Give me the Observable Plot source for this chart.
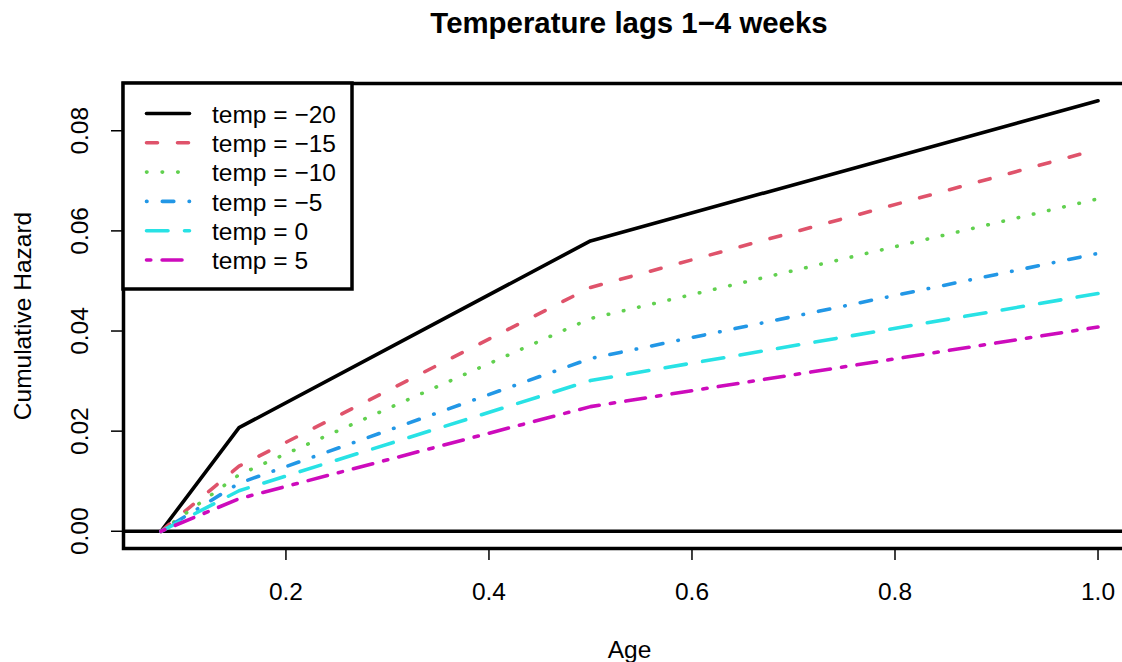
<!DOCTYPE html>
<html><head><meta charset="utf-8">
<script src="https://cdn.jsdelivr.net/npm/d3@7"></script>
<script src="https://cdn.jsdelivr.net/npm/@observablehq/plot@0.6"></script>
<style>
html,body{margin:0;padding:0;background:#fff;overflow:hidden;}
#title{height:55px;box-sizing:border-box;padding-top:8.4px;width:1258px;text-align:center;font-family:"Liberation Sans",Arial,sans-serif;font-weight:bold;font-size:29.4px;line-height:29.4px;white-space:nowrap;}
#chart svg{max-width:none;display:block;}
</style></head><body>
<div id="title">Temperature lags 1−4 weeks</div>
<div id="chart"></div>
<script>
// ---- data ----
const ages = [0.0769, 0.1538, 0.5, 1.0];
const temps = [-20, -15, -10, -5, 0, 5];
const hazTempM20 = [0, 0.0207, 0.0580, 0.0860];
const hazTempM15 = [0, 0.0130, 0.0487, 0.0763];
const hazTempM10 = [0, 0.0113, 0.0425, 0.0664];
const hazTempM5  = [0, 0.0096, 0.0345, 0.0555];
const hazTemp0   = [0, 0.0081, 0.0301, 0.0475];
const hazTemp5   = [0, 0.0065, 0.0249, 0.0408];
const hazards = [hazTempM20, hazTempM15, hazTempM10, hazTempM5, hazTemp0, hazTemp5];
const seriesLabels = ["temp = −20", "temp = −15", "temp = −10", "temp = −5", "temp = 0", "temp = 5"];
const seriesColors = ["#000000", "#DF536B", "#61D04F", "#2297E6", "#28E2E5", "#CD0BBC"];
const seriesDash = ["none", "11,20", "0.5,15.1", "0.5,15.3,11.5,15.3", "21.5,16.5", "4.3,11.3,19.9,11.3"];
const xTicks = [0.2, 0.4, 0.6, 0.8, 1.0];
const yTicks = [0, 0.02, 0.04, 0.06, 0.08];
const xLabel = "Age";
const yLabel = "Cumulative Hazard";

// ---- table ----
const rows = temps.flatMap((t, i) => ages.map((a, j) => ({age: a, hazard: hazards[i][j], temp: t})));

// ---- layout ----
const W = 1140, H = 607;
const mL = 123, mT = 28, mR = 5, mB = 114;
const font = "Liberation Sans, Arial, sans-serif";
const fs = 24.5;
const lw = 3.6;

// R-style 4% padded domains
const xr = d3.extent(ages), yr = d3.extent(rows, d => d.hazard);
const xPad = (xr[1] - xr[0]) * 0.04, yPad = (yr[1] - yr[0]) * 0.04;

function legendMark() {
  const g = d3.create("svg:g");
  const bw = 229, bh = 206;
  g.append("rect").attr("x", mL).attr("y", mT).attr("width", bw).attr("height", bh)
    .attr("fill", "white").attr("stroke", "black").attr("stroke-width", 3.5);
  seriesLabels.forEach((lab, i) => {
    const y = mT + 30.5 + i * 29.3;
    g.append("line").attr("x1", mL + 23.5).attr("x2", mL + 66.5).attr("y1", y).attr("y2", y)
      .attr("stroke", seriesColors[i]).attr("stroke-width", lw)
      .attr("stroke-dasharray", seriesDash[i]).attr("stroke-linecap", "round");
    g.append("text").attr("x", mL + 89).attr("y", y + 9.3)
      .attr("text-anchor", "start")
      .attr("font-family", font).attr("font-size", fs).attr("fill", "black").text(lab);
  });
  return g.node();
}

const marks = [
  Plot.ruleY([0], {stroke: "black", strokeWidth: lw})
];
temps.forEach((t, i) => {
  marks.push(Plot.line(rows.filter(d => d.temp === t), {
    x: "age", y: "hazard", stroke: seriesColors[i], strokeWidth: lw,
    strokeDasharray: seriesDash[i], strokeLinecap: "round", strokeLinejoin: "round"
  }));
});
marks.push(
  Plot.frame({stroke: "black", strokeWidth: 3.5}),
  Plot.axisX({ticks: xTicks, tickSize: 12, tickPadding: 22, tickFormat: d3.format(".1f"), label: null, strokeWidth: 1.5, fontSize: fs}),
  Plot.axisY({ticks: yTicks, tickSize: 12, tickFormat: () => "", label: null, strokeWidth: 1.5}),
  Plot.text(yTicks, {y: d => d, text: d3.format(".2f"), frameAnchor: "left", textAnchor: "middle", lineAnchor: "middle", rotate: -90, dx: -43, fontSize: fs}),
  Plot.text([yLabel], {text: d => d, frameAnchor: "left", textAnchor: "middle", lineAnchor: "middle", rotate: -90, dx: -100.5, fontSize: fs}),
  Plot.text([xLabel], {text: d => d, frameAnchor: "bottom", textAnchor: "middle", lineAnchor: "middle", dy: 102, fontSize: fs}),
  legendMark
);

const chart = Plot.plot({
  width: W, height: H,
  marginLeft: mL, marginTop: mT, marginRight: mR, marginBottom: mB,
  style: {fontFamily: font, fontSize: fs + "px", background: "white", color: "black", overflow: "visible"},
  x: {domain: [xr[0] - xPad, xr[1] + xPad]},
  y: {domain: [yr[0] - yPad, yr[1] + yPad]},
  marks
});
document.getElementById("chart").appendChild(chart);
</script>
</body></html>
